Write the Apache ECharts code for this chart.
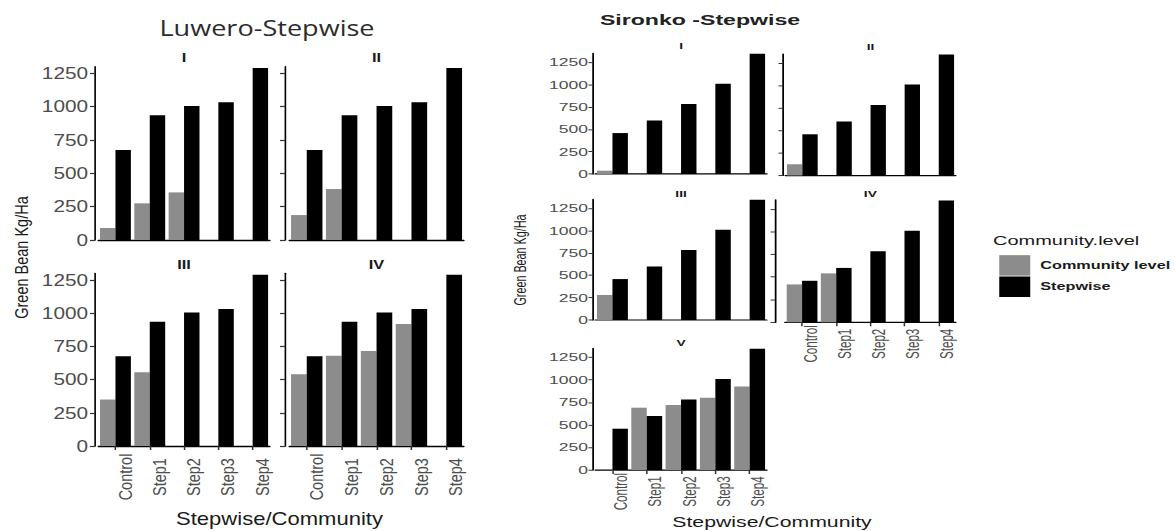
<!DOCTYPE html>
<html>
<head>
<meta charset="utf-8">
<script src="https://cdn.jsdelivr.net/npm/echarts@6/dist/echarts.min.js"></script>
<style>
  html, body { margin: 0; padding: 0; background: #fff; width: 1175px; height: 531px; overflow: hidden; }
  /* each figure is drawn in its own box and then stretched like the printed composite */
  #luwero  { position: absolute; left: 0; top: 0; width: 390px; height: 531px;
             transform: scaleX(1.26); transform-origin: 0 0; }
  #sironko { position: absolute; left: 500px; top: 0; width: 540px; height: 640px;
             transform: scale(1.25, 0.83); transform-origin: 0 0; }
</style>
</head>
<body>
<div id="luwero"></div>
<div id="sironko"></div>
<script>
// ---- data ---------------------------------------------------------------
const steps = ['Control', 'Step1', 'Step2', 'Step3', 'Step4'];
const yTickValues = [0, 250, 500, 750, 1000, 1250];
const seriesNames = ['Community level', 'Stepwise'];
const panelNames = ['I', 'II', 'III', 'IV', 'V'];

// Luwero: green bean yield (kg/ha)
const luweroStepwise = [675, 935, 1005, 1032, 1290];
const luweroCommunityI = [90, 275, 357, null, null];
const luweroCommunityII = [187, 382, null, null, null];
const luweroCommunityIII = [350, 555, null, null, null];
const luweroCommunityIV = [540, 680, 715, 919, null];

// Sironko: green bean yield (kg/ha)
const sironkoStepwise = [458, 600, 783, 1010, 1345];
const sironkoCommunityI = [37, null, null, null, null];
const sironkoCommunityII = [125, null, null, null, null];
const sironkoCommunityIII = [280, null, null, null, null];
const sironkoCommunityIV = [418, 540, null, null, null];
const sironkoCommunityV = [null, 691, 721, 802, 925];

// ---- styling ------------------------------------------------------------
const GRAY = '#8c8c8c';
const BLACK = '#000000';
const SANS = '"Liberation Sans", Arial, sans-serif';
const TICK_TEXT = '#4d4d4d';
const INK = '#1a1a1a';

// panel layout in page pixels; the builder converts to each chart's own box
const luweroFigure = {
  sx: 1.26, sy: 1, ox: 0, oy: 0, yMax: 1300,
  lineWidth: 1.3, yFont: 16.5, xFont: 14.5, xMargin: 31, yMargin: 5.5, yTickLen: 4, xTickLen: 4,
  stripFont: 13,
  panels: [
    { community: luweroCommunityI,   left: 98.3,  width: 171.5, zero: 240, y1250: 73.3, axisX: 95,  strip: 58,  yLabels: true,  xLabels: false },
    { community: luweroCommunityII,  left: 289.3, width: 174.5, zero: 240, y1250: 73.3, axisX: 285, strip: 58,  yLabels: false, xLabels: false },
    { community: luweroCommunityIII, left: 98.3,  width: 171.5, zero: 446, y1250: 280,  axisX: 95,  strip: 265, yLabels: true,  xLabels: true },
    { community: luweroCommunityIV,  left: 289.3, width: 174.5, zero: 446, y1250: 280,  axisX: 285, strip: 265, yLabels: false, xLabels: true }
  ],
  stepwise: luweroStepwise
};

const sironkoFigure = {
  sx: 1.25, sy: 0.83, ox: 500, oy: 0, yMax: 1350,
  lineWidth: 1.4, yFont: 14, xFont: 14, xMargin: 26, yMargin: 4, yTickLen: 3.6, xTickLen: 4.8,
  stripFont: 11,
  panels: [
    { community: sironkoCommunityI,   left: 595.3, width: 171.5, zero: 174,   y1250: 62.3,  axisX: 593, strip: 45,  yLabels: true,  xLabels: false },
    { community: sironkoCommunityII,  left: 785.3, width: 170.5, zero: 175.5, y1250: 63,    axisX: 783, strip: 46,  yLabels: false, xLabels: false },
    { community: sironkoCommunityIII, left: 595.3, width: 171.5, zero: 320,   y1250: 208.3, axisX: 593, strip: 193, yLabels: true,  xLabels: false },
    { community: sironkoCommunityIV,  left: 785,   width: 170.7, zero: 322.3, y1250: 209,   axisX: 775, strip: 193, yLabels: false, xLabels: true },
    { community: sironkoCommunityV,   left: 595.3, width: 171.5, zero: 470,   y1250: 357.3, axisX: 593, strip: 342, yLabels: true,  xLabels: true }
  ],
  stepwise: sironkoStepwise
};

function ux(f, x) { return (x - f.ox) / f.sx; }
function uy(f, y) { return (y - f.oy) / f.sy; }

function label(f, text, x, y, o) {
  return {
    type: 'text', silent: true,
    x: ux(f, x), y: uy(f, y), rotation: o.rotation || 0,
    style: {
      text: text, fill: o.color || INK,
      fontFamily: o.family || SANS, fontSize: o.size, fontWeight: o.weight || 'normal',
      align: o.align || 'center', verticalAlign: 'middle'
    }
  };
}

function buildOption(f, extraTexts) {
  const grid = [], xAxis = [], yAxis = [], series = [], texts = [];
  f.panels.forEach(function (p, i) {
    const top = p.zero - f.yMax / 1250 * (p.zero - p.y1250);
    grid.push({
      left: ux(f, p.left), width: p.width / f.sx,
      top: uy(f, top), height: (p.zero - top) / f.sy,
      containLabel: false, outerBoundsMode: 'none'
    });
    xAxis.push({
      type: 'category', gridIndex: i, data: steps, boundaryGap: true,
      axisLine: { show: true, lineStyle: { color: BLACK, width: f.lineWidth } },
      axisTick: { show: p.xLabels, alignWithLabel: true, length: f.xTickLen, lineStyle: { color: '#333', width: 1.2 } },
      axisLabel: {
        show: p.xLabels, interval: 0, rotate: 90, align: 'center', verticalAlign: 'top',
        margin: f.xMargin, fontFamily: SANS, fontSize: f.xFont, color: TICK_TEXT
      },
      splitLine: { show: false }
    });
    yAxis.push({
      type: 'value', gridIndex: i, min: 0, max: f.yMax,
      offset: (p.left - p.axisX) / f.sx,
      axisLine: { show: true, lineStyle: { color: BLACK, width: f.lineWidth } },
      axisTick: { show: true, length: f.yTickLen, customValues: yTickValues, lineStyle: { color: '#333', width: 1.2 } },
      axisLabel: {
        show: p.yLabels, customValues: yTickValues, margin: f.yMargin,
        formatter: function (v) { return String(v); },
        fontFamily: SANS, fontSize: f.yFont, color: TICK_TEXT
      },
      splitLine: { show: false }
    });
    series.push({
      type: 'bar', name: seriesNames[0], xAxisIndex: i, yAxisIndex: i,
      data: p.community, itemStyle: { color: GRAY },
      barGap: '0%', barCategoryGap: '10%', clip: false, silent: true
    });
    series.push({
      type: 'bar', name: seriesNames[1], xAxisIndex: i, yAxisIndex: i,
      data: f.stepwise, itemStyle: { color: BLACK },
      barGap: '0%', barCategoryGap: '10%', clip: false, silent: true
    });
    texts.push(label(f, panelNames[i], p.left + p.width / 2, p.strip, { size: f.stripFont, weight: 'bold' }));
  });
  return {
    animation: false,
    backgroundColor: 'transparent',
    grid: grid, xAxis: xAxis, yAxis: yAxis, series: series,
    graphic: { elements: texts.concat(extraTexts) }
  };
}

// ---- Luwero figure ------------------------------------------------------
const luweroChart = echarts.init(document.getElementById('luwero'), null, { renderer: 'svg' });
const luweroOption = buildOption(luweroFigure, [
  label(luweroFigure, 'Luwero-Stepwise', 267, 28, { size: 21.5, family: '"Open Sans", sans-serif', color: '#2b2b2b' }),
  label(luweroFigure, 'Green Bean Kg/Ha', 21, 257.5, { size: 14.5, rotation: Math.PI / 2 }),
  label(luweroFigure, 'Stepwise/Community', 279.5, 519, { size: 17.5 })
]);
luweroChart.setOption(luweroOption);

// ---- Sironko figure (with the shared legend) ----------------------------
const sironkoChart = echarts.init(document.getElementById('sironko'), null, { renderer: 'svg' });
const sironkoOption = buildOption(sironkoFigure, [
  label(sironkoFigure, 'Sironko -Stepwise', 700, 20, { size: 18.5, weight: 'bold', color: '#222' }),
  label(sironkoFigure, 'Green Bean Kg/Ha', 521, 260, { size: 13, rotation: Math.PI / 2 }),
  label(sironkoFigure, 'Stepwise/Community', 772, 522, { size: 17 }),
  label(sironkoFigure, 'Community.level', 993, 240.5, { size: 16, align: 'left' })
]);
sironkoOption.legend = {
  show: true, orient: 'vertical', selectedMode: false,
  left: ux(sironkoFigure, 993), top: uy(sironkoFigure, 251),
  itemWidth: 31 / sironkoFigure.sx, itemHeight: 20.5 / sironkoFigure.sy, itemGap: 1,
  icon: 'rect', data: seriesNames,
  formatter: function (name) { return '{g|}' + name; },
  textStyle: {
    fontFamily: SANS, fontSize: 13, fontWeight: 'bold', color: INK,
    rich: { g: { width: 3 } }
  }
};
sironkoChart.setOption(sironkoOption);
</script>
</body>
</html>
